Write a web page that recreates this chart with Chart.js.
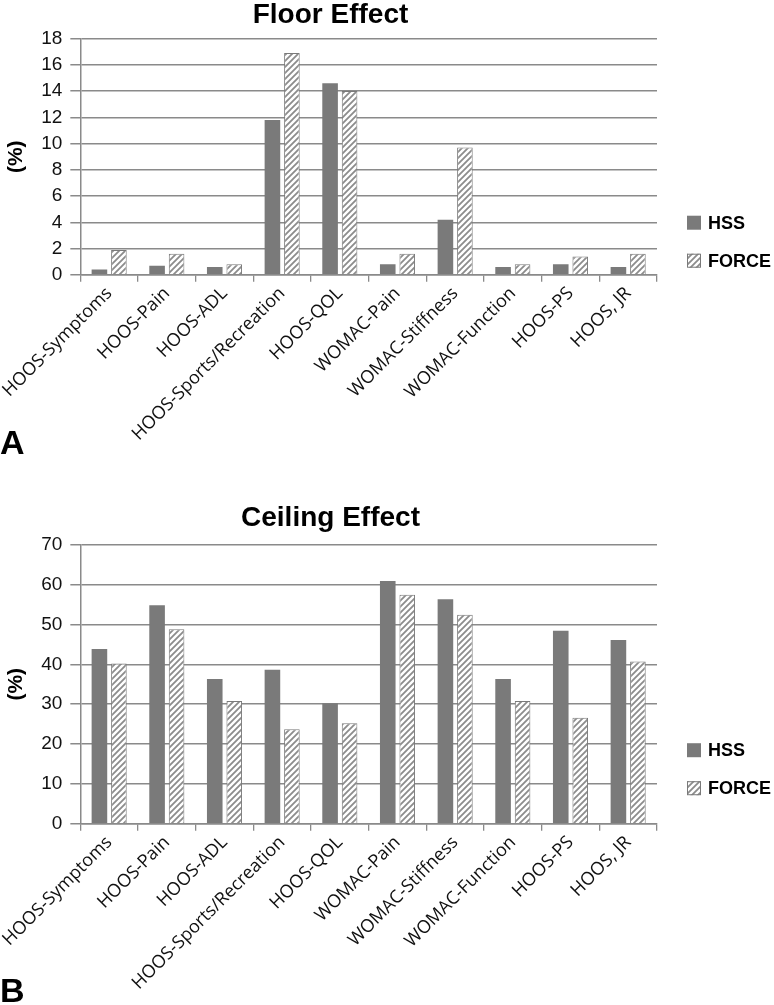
<!DOCTYPE html>
<html>
<head>
<meta charset="utf-8">
<script src="https://cdn.jsdelivr.net/npm/chart.js@4"></script>
<style>
  html, body { margin: 0; padding: 0; background: #fff; }
  body { width: 774px; height: 1005px; position: relative; overflow: hidden; font-family: "Liberation Sans", Arial, sans-serif; }
  .panel { position: absolute; left: 0; width: 774px; }
  .tag { position: absolute; left: 0; font: bold 34px "Liberation Sans", Arial, sans-serif; color: #000; line-height: 1; }
</style>
</head>
<body>
<div class="panel" style="top:-2px;height:472px"><canvas id="floorChart" width="774" height="472"></canvas></div>
<div class="tag" style="top:425px">A</div>
<div class="panel" style="top:497px;height:508px"><canvas id="ceilChart" width="774" height="508"></canvas></div>
<div class="tag" style="top:973px">B</div>

<script>
// HSS vs FORCE floor / ceiling effects per PRO subscale

const categories = [
  "HOOS-Symptoms", "HOOS-Pain", "HOOS-ADL", "HOOS-Sports/Recreation", "HOOS-QOL",
  "WOMAC-Pain", "WOMAC-Stiffness", "WOMAC-Function", "HOOS-PS", "HOOS, JR"
];
const seriesNames = ["HSS", "FORCE"];

const floorHss   = [0.4, 0.7, 0.6, 11.8, 14.6, 0.8, 4.2, 0.6, 0.8, 0.6];
const floorForce = [1.9, 1.6, 0.8, 16.9, 14.0, 1.6, 9.7, 0.8, 1.4, 1.6];
const floorTicks = [0, 2, 4, 6, 8, 10, 12, 14, 16, 18];

const ceilHss   = [43.8, 54.8, 36.3, 38.6, 30.2, 60.9, 56.3, 36.3, 48.4, 46.1];
const ceilForce = [40.2, 48.8, 30.8, 23.7, 25.2, 57.4, 52.4, 30.8, 26.6, 40.7];
const ceilTicks = [0, 10, 20, 30, 40, 50, 60, 70];

const GRAY = "#7a7a7a";
const GRID = "#8a8a8a";
const FONT = "Liberation Sans, Arial";

// diagonal hatch used for FORCE bars
function makeHatch(){
  const c = document.createElement("canvas");
  c.width = 6; c.height = 6;
  const g = c.getContext("2d");
  g.fillStyle = "#fff";
  g.fillRect(0, 0, 6, 6);
  g.strokeStyle = "#8c8c8c";
  g.lineWidth = 1.8;
  g.beginPath();
  g.moveTo(-1, 7); g.lineTo(7, -1);
  g.moveTo(-4, 4); g.lineTo(4, -4);
  g.moveTo(2, 10); g.lineTo(10, 2);
  g.stroke();
  return g.createPattern(c, "repeat");
}

// legend to the right of the plot, a bit below its middle (as in the original)
const sideLegend = {
  id: "sideLegend",
  afterDraw(chart){
    const { ctx, chartArea } = chart;
    const mid = (chartArea.top + chartArea.bottom) / 2;
    ctx.save();
    ctx.font = "bold 18px " + FONT;
    ctx.textBaseline = "middle";
    chart.data.datasets.forEach((ds, i) => {
      const x = chartArea.right + 30;
      const y = mid + 66 + i * 38;
      ctx.fillStyle = ds.backgroundColor;
      ctx.fillRect(x, y - 7, 14, 14);
      if (ds.borderWidth){
        ctx.strokeStyle = ds.borderColor;
        ctx.lineWidth = 1;
        ctx.strokeRect(x + 0.5, y - 6.5, 13, 13);
      }
      ctx.fillStyle = "#000";
      ctx.fillText(ds.label, x + 21, y + 1);
    });
    ctx.restore();
  }
};

function makeChart(id, title, hss, force, ticks, titlePad, padBottom){
  const hatch = makeHatch();
  return new Chart(document.getElementById(id), {
    type: "bar",
    data: {
      labels: categories,
      datasets: [
        { label: seriesNames[0], data: hss, backgroundColor: GRAY, borderWidth: 0,
          categoryPercentage: 0.676, barPercentage: 0.8 },
        { label: seriesNames[1], data: force, backgroundColor: hatch, borderColor: GRAY, borderWidth: 1,
          categoryPercentage: 0.676, barPercentage: 0.8 }
      ]
    },
    plugins: [sideLegend],
    options: {
      responsive: false,
      animation: false,
      layout: { padding: { left: 4, right: 117, top: 0, bottom: padBottom } },
      plugins: {
        title: {
          display: true, text: title, color: "#000",
          font: { family: FONT, size: 28, weight: "bold" },
          padding: titlePad
        },
        legend: { display: false },
        tooltip: { enabled: false }
      },
      scales: {
        x: {
          grid: { display: true, drawOnChartArea: false, drawTicks: true, tickLength: 7, color: GRID, lineWidth: 1.3 },
          border: { color: GRID, width: 1.5 },
          ticks: {
            color: "#111", minRotation: 45, maxRotation: 45, padding: 1,
            font: { family: "Open Sans", size: 18 }
          }
        },
        y: {
          min: ticks[0], max: ticks[ticks.length - 1],
          afterBuildTicks: (axis) => { axis.ticks = ticks.map(v => ({ value: v })); },
          grid: { color: GRID, lineWidth: 1.5, tickLength: 10 },
          border: { color: GRID, width: 1.5 },
          ticks: { color: "#111", padding: 8, font: { family: FONT, size: 19 } },
          title: {
            display: true, text: "(%)", color: "#000", padding: { top: 0, bottom: 4 },
            font: { family: FONT, size: 21, weight: "bold" }
          }
        }
      }
    }
  });
}

makeChart("floorChart", "Floor Effect", floorHss, floorForce, floorTicks, { top: 0, bottom: 7 }, 24);
makeChart("ceilChart", "Ceiling Effect", ceilHss, ceilForce, ceilTicks, { top: 4, bottom: 10 }, 10);
</script>
</body>
</html>
